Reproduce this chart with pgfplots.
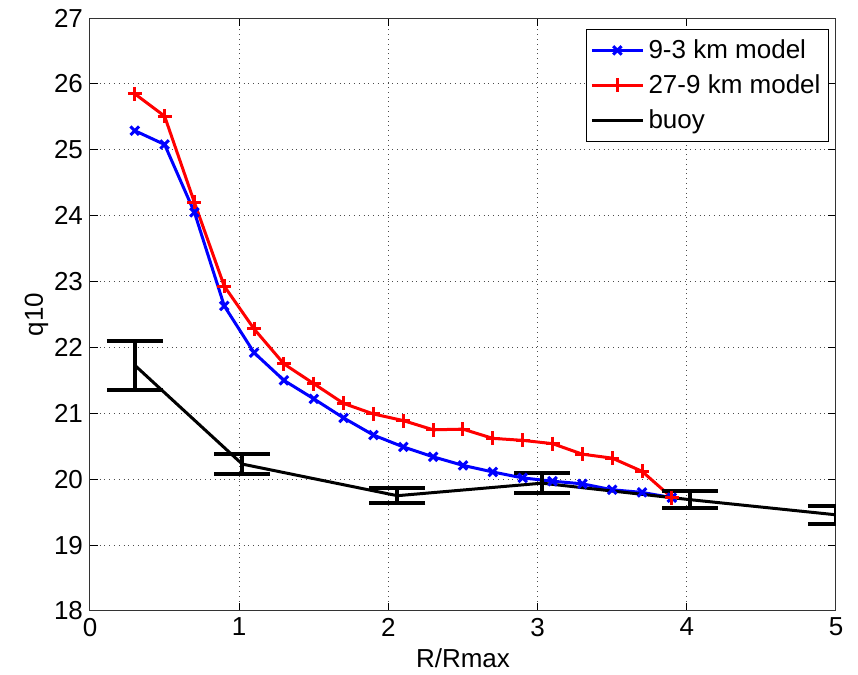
\documentclass[border=0pt]{standalone}
\usepackage{pgfplots}
\pgfplotsset{compat=1.18}
\usepackage{fontspec}
\setmainfont{Liberation Sans}
\begin{document}
\begin{tikzpicture}
\useasboundingbox (-45pt,-32pt) rectangle (384pt,305.5pt);
\begin{axis}[
  scale only axis,
  width=373pt, height=296.5pt,
  xmin=0, xmax=5, ymin=18, ymax=27,
  xtick={0,1,2,3,4,5},
  ytick={18,19,20,21,22,23,24,25,26,27},
  /pgf/number format/assume math mode=true,
  tick label style={font=\fontsize{13}{15}\selectfont},
  label style={font=\fontsize{13}{15}\selectfont},
  xlabel={R/Rmax}, ylabel={q10},
  xlabel style={yshift=1pt},
  ylabel style={yshift=-4pt},
  tick align=inside,
  major tick length=4pt,
  minor tick num=0,
  grid=major,
  major grid style={dotted, black!70, line width=0.5pt},
  axis line style={line width=0.5pt, black!80},
  every tick/.style={black, line width=0.5pt},
  legend style={at={(1,1)}, anchor=north east, xshift=-3.5pt, yshift=-5.5pt,
    draw=black, line width=0.5pt, font=\fontsize{13}{15}\selectfont,
    row sep=2.5pt, inner xsep=2pt, inner ysep=3pt, legend cell align=left},
  legend image code/.code={\draw[mark repeat=2,mark phase=2] plot coordinates {(0cm,0cm) (0.45cm,0cm) (0.9cm,0cm)};},
]
\addplot[blue, line width=1.5pt, mark=x, mark size=3pt, mark options={line width=1.5pt}] coordinates {
(0.3,25.29) (0.5,25.08) (0.7,24.05) (0.9,22.63) (1.1,21.92) (1.3,21.50) (1.5,21.22) (1.7,20.93) (1.9,20.67) (2.1,20.49) (2.3,20.34) (2.5,20.21) (2.7,20.11) (2.9,20.02) (3.1,19.97) (3.3,19.93) (3.5,19.84) (3.7,19.80) (3.9,19.72)
};
\addlegendentry{9-3 km model}
\addplot[red, line width=1.5pt, mark=+, mark size=3.5pt, mark options={line width=1.5pt}] coordinates {
(0.3,25.85) (0.5,25.51) (0.7,24.2) (0.9,22.93) (1.1,22.28) (1.3,21.75) (1.5,21.45) (1.7,21.15) (1.9,20.99) (2.1,20.89) (2.3,20.75) (2.5,20.76) (2.7,20.62) (2.9,20.59) (3.1,20.54) (3.3,20.38) (3.5,20.32) (3.7,20.12) (3.9,19.72)
};
\addlegendentry{27-9 km model}
\addplot[black, line width=1.5pt, mark=none,
  error bars/.cd, y dir=both, y explicit,
  error mark=|,
  error bar style={line width=2pt},
  error mark options={mark size=14pt, line width=2pt}] coordinates {
(0.3,21.73) += (0,0.37) -= (0,0.37)
(1.02,20.23) += (0,0.15) -= (0,0.15)
(2.06,19.75) += (0,0.11) -= (0,0.11)
(3.03,19.94) += (0,0.15) -= (0,0.15)
(4.02,19.69) += (0,0.13) -= (0,0.13)
(5.0,19.46) += (0,0.14) -= (0,0.14)
};
\addlegendentry{buoy}
\end{axis}
\end{tikzpicture}
\end{document}
